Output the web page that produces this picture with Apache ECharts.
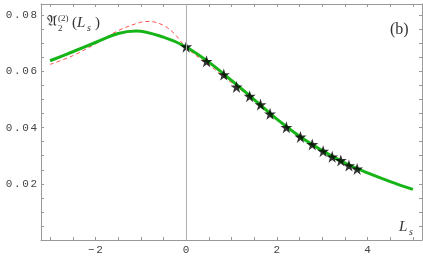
<!DOCTYPE html>
<html>
<head>
<meta charset="utf-8">
<script src="https://cdn.jsdelivr.net/npm/echarts@6/dist/echarts.min.js"></script>
<style>
html, body { margin: 0; padding: 0; background: #fff; }
#main { width: 423px; height: 262px; }
</style>
</head>
<body>
<div id="main"></div>
<script>
// full curve (green)
const greenX = [-3, -2.5, -2, -1.5, -1.1, -0.5, 0, 0.5, 1, 1.5, 2, 2.5, 3, 3.5, 4, 4.5, 5]
const greenY = [0.0638, 0.0670, 0.0703, 0.0735, 0.0744, 0.0722, 0.0687, 0.0633, 0.0568, 0.0500, 0.0430, 0.0369, 0.0318, 0.0274, 0.0239, 0.0208, 0.0180]
// approximation (red dashed)
const redX = [-3, -2.5, -2, -1.5, -1, -0.8, -0.5, -0.25, 0, 0.5, 1, 1.5, 2, 2.5, 3, 3.5, 4, 4.5, 5]
const redY = [0.0625, 0.0656, 0.0698, 0.0745, 0.0775, 0.0778, 0.0764, 0.0733, 0.0685, 0.0624, 0.0560, 0.0497, 0.0429, 0.0369, 0.0318, 0.0274, 0.0239, 0.0208, 0.0180]
// data points (stars)
const starX = [0, 0.45, 0.83, 1.11, 1.40, 1.64, 1.85, 2.21, 2.52, 2.78, 3.02, 3.22, 3.41, 3.59, 3.77]
const starY = [0.0688, 0.0636, 0.0589, 0.0545, 0.0512, 0.0482, 0.0449, 0.0401, 0.0367, 0.0340, 0.0316, 0.0296, 0.0283, 0.0265, 0.0253]

const xTicks = [-3, -2.5, -2, -1.5, -1, -0.5, 0, 0.5, 1, 1.5, 2, 2.5, 3, 3.5, 4, 4.5, 5]
const xLabels = [-2, 0, 2, 4]
const yTicks = [0.005, 0.01, 0.015, 0.02, 0.025, 0.03, 0.035, 0.04, 0.045, 0.05, 0.055, 0.06, 0.065, 0.07, 0.075, 0.08]
const yLabels = [0.02, 0.04, 0.06, 0.08]

const pair = (xs, ys) => xs.map((x, i) => [x, ys[i]])

// monospace, letter-spaced labels
function spaced (v) {
  return String(v).replace('-', '\u2212').split('').map(c => '{c|' + c + '}').join('')
}
const rich = {
  c: { width: 8.2, fontFamily: 'Liberation Mono', fontSize: 11, color: '#444' }
}

const frame = { show: true, onZero: false, lineStyle: { color: '#999', width: 1 } }

function xAxisOpt (pos, labels) {
  return {
    type: 'value', position: pos, min: -3.2, max: 5.2,
    axisLine: frame,
    axisTick: { show: true, inside: true, length: 3, customValues: xTicks, lineStyle: { color: '#999' } },
    axisLabel: labels
      ? { show: true, customValues: xLabels, formatter: spaced, rich: rich, margin: 5 }
      : { show: false },
    splitLine: { show: false }
  }
}
function yAxisOpt (pos, labels) {
  return {
    type: 'value', position: pos, min: 0, max: 0.084,
    axisLine: frame,
    axisTick: { show: true, inside: true, length: 3, customValues: yTicks, lineStyle: { color: '#999' } },
    axisLabel: labels
      ? { show: true, customValues: yLabels, formatter: spaced, rich: rich, margin: 4 }
      : { show: false },
    splitLine: { show: false }
  }
}

const myChart = echarts.init(document.getElementById('main'))

const serif = '"Liberation Serif", "DejaVu Serif", serif'
const txt = (text, x, y, font) => ({
  type: 'text', left: x, top: y, silent: true,
  style: { text: text, font: font, fill: '#333' }
})

const option = {
  animation: false,
  grid: { left: 41, right: 1, top: 4, bottom: 22, containLabel: false },
  xAxis: [xAxisOpt('bottom', true), xAxisOpt('top', false)],
  yAxis: [yAxisOpt('left', true), yAxisOpt('right', false)],
  graphic: [
    txt('\u{1D504}', 47, 15, '15px "DejaVu Serif", "DejaVu Sans", serif'),
    txt('(2)', 58, 14, '9px ' + serif),
    txt('2', 58, 24, '9px ' + serif),
    txt('(', 72, 16, '15px ' + serif),
    txt('L', 77, 16, 'italic 15px ' + serif),
    txt('s', 87, 23, 'italic 10px ' + serif),
    txt(')', 95, 16, '15px ' + serif),
    txt('(b)', 390, 22, '16px ' + serif),
    txt('L', 399, 220, 'italic 15px ' + serif),
    txt('s', 409, 227, 'italic 10px ' + serif)
  ],
  series: [
    {
      type: 'line', data: [], silent: true,
      markLine: {
        silent: true, symbol: 'none', label: { show: false },
        lineStyle: { color: '#b0b0b0', width: 1, type: 'solid' },
        data: [{ xAxis: 0 }]
      }
    },
    {
      type: 'line', data: pair(greenX, greenY), smooth: 0.35, showSymbol: false, z: 3,
      lineStyle: { color: '#17b417', width: 3 }
    },
    {
      type: 'line', data: pair(redX, redY), smooth: 0.35, showSymbol: false, z: 2,
      lineStyle: { color: '#ff5050', width: 1, type: [4, 3] }
    },
    {
      type: 'scatter', data: pair(starX, starY), z: 4,
      symbol: 'path://M50,0 L61.8,35.1 98.1,35.1 68.8,56.7 79.4,90.9 50,69.1 20.6,90.9 31.2,56.7 1.9,35.1 38.2,35.1 Z',
      symbolSize: 12,
      itemStyle: { color: '#000' }
    }
  ]
}
myChart.setOption(option)
</script>
</body>
</html>
